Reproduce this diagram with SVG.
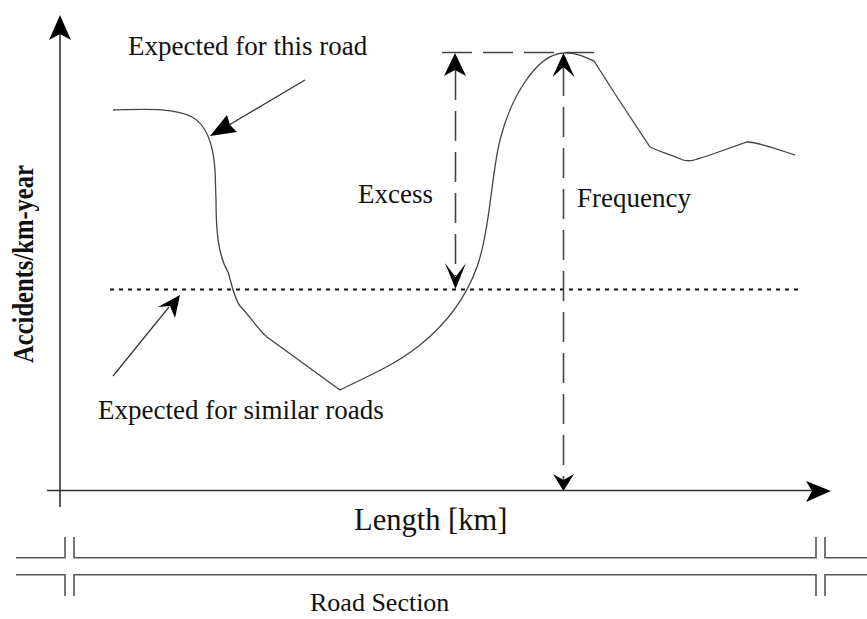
<svg xmlns="http://www.w3.org/2000/svg" width="867" height="619" viewBox="0 0 867 619">
<style>
.t{font-family:"Liberation Serif","Times New Roman",serif;fill:#111}
.ax{stroke:#333;stroke-width:1.6;fill:none}
.cv{stroke:#444;stroke-width:1.3;fill:none}
.dash{stroke:#444;stroke-width:1.6;fill:none;stroke-dasharray:30 11}
.dot{stroke:#111;stroke-width:2;fill:none;stroke-dasharray:4 5}
.thin{stroke:#333;stroke-width:1.2;fill:none}
.rd{stroke:#555;stroke-width:1.6;fill:none}
.ah{fill:#000}
</style>
<rect width="867" height="619" fill="#fff"/>
<g id="axes">
<line class="ax" x1="60" y1="28" x2="60" y2="507"/>
<polygon class="ah" points="60,15 71,40 60,34 49,40"/>
<line class="ax" x1="47" y1="490.5" x2="815" y2="490.5"/>
<polygon class="ah" points="831,491 806,481 812,491 806,502"/>
</g>
<g id="curve">
<path class="cv" d="M113,110 C150,109 175,108 192,117 C205,124 213,140 215,170 L216,200 C216,230 218,255 228,272 C232,285 234,298 240,306 C250,316 255,326 267,337 L340,390 C370,375 395,365 420,345 C445,325 465,300 477,267 C490,230 492,170 500,140 C510,100 535,55 563,53 C575,52 585,57 594,61 C603,75 610,86 617,97 L650,147 C660,152 667,153 683,160 C690,162 695,160 710,155 L747,142 C755,142 762,145 770,147 L795,155"/>
</g>
<g id="connectors">
<line class="dot" x1="110" y1="289.5" x2="803" y2="289.5"/>
<line class="dash" x1="442" y1="52.5" x2="594" y2="52.5"/>
<line class="dash" x1="455.5" y1="70" x2="455.5" y2="276"/>
<polygon class="ah" points="455,53 466,76 455,70 444,76"/>
<polygon class="ah" points="455.5,289 466,263 455.5,277 445,263"/>
<line class="dash" x1="563.5" y1="66" x2="563.5" y2="480"/>
<polygon class="ah" points="563.5,53 574.5,77 563.5,67 552.5,77"/>
<polygon class="ah" points="563.5,491 574,474 563.5,480 553,474"/>
<line class="thin" x1="305" y1="80" x2="229" y2="125"/>
<polygon class="ah" points="210,136 227,115 230,125 237,132"/>
<line class="thin" x1="113" y1="376" x2="169" y2="307"/>
<polygon class="ah" points="180,295 158,307 170,306 175,318"/>
</g>
<g id="road-section">
<path class="rd" d="M16,557.7 H65 V537 M74,537 V557.7 H816 V537 M825,537 V557.7 H867"/>
<path class="rd" d="M16,574.7 H65 V596 M74,596 V574.7 H816 V596 M825,596 V574.7 H867"/>
</g>
<g id="labels">
<text class="t" x="128" y="55" font-size="27">Expected for this road</text>
<text class="t" x="98" y="419" font-size="27">Expected for similar roads</text>
<text class="t" x="358" y="203" font-size="27">Excess</text>
<text class="t" x="577" y="207" font-size="27">Frequency</text>
<text class="t" x="354" y="530" font-size="30.5">Length [km]</text>
<text class="t" x="310" y="611" font-size="26">Road Section</text>
<text class="t" font-size="30" font-weight="bold" text-anchor="middle" textLength="198" lengthAdjust="spacingAndGlyphs" transform="translate(33,264) rotate(-90)">Accidents/km-year</text>
</g>
</svg>
